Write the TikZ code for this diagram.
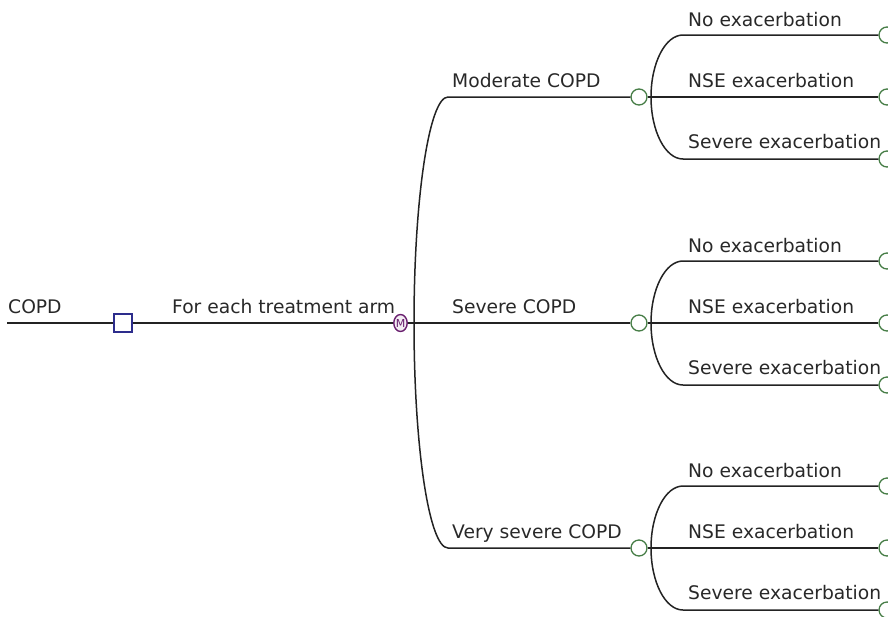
\documentclass[tikz,border=0pt]{standalone}
\usepackage{fontspec}
\setmainfont{DejaVu Sans}
\usetikzlibrary{shapes.geometric}
\definecolor{linec}{RGB}{35,35,35}
\definecolor{textc}{RGB}{40,40,40}
\definecolor{decc}{RGB}{45,45,140}
\definecolor{chancec}{RGB}{70,125,70}
\definecolor{markovc}{RGB}{105,30,110}
\begin{document}
\begin{tikzpicture}[x=1pt,y=-1pt,
  branch/.style={draw=linec, line width=1.5pt},
  lbl/.style={anchor=base west, inner sep=0pt, text=textc, font=\fontsize{18.7}{20}\selectfont},
  decision/.style={rectangle, draw=decc, line width=1.4pt, minimum size=18pt, inner sep=0pt, fill=white},
  chance/.style={circle, draw=chancec, line width=1.3pt, minimum size=16pt, inner sep=0pt, fill=white},
  markov/.style={ellipse, draw=markovc, line width=1.4pt, minimum width=13pt, minimum height=17pt, inner sep=0pt, fill=markovc!8, text=markovc, font=\fontsize{11}{11}\selectfont}
]
\useasboundingbox (0,0) rectangle (888,616);
\clip (0,0) rectangle (888,616);

% root, decision and Markov nodes
\coordinate (start) at (7,323);
\node[decision] (dec) at (123,323) {};
\node[markov] (mk) at (400.5,323) {M};
\coordinate (j0) at (414,323);

\node[lbl] (lroot) at (8,313) {COPD};
\node[lbl] (larm) at (172,313) {For each treatment arm};

\draw[branch] (start) -- (dec.west);
\draw[branch] (dec.east) -- (mk.west);
\draw[branch] (mk.east) -- (j0);

% health states
\foreach \i/\y/\name in {1/97/Moderate COPD, 2/323/Severe COPD, 3/548/Very severe COPD}{
  \node[chance] (c\i) at (639,\y) {};
  \coordinate (s\i) at (448,\y);
  \node[lbl] (ls\i) at (452,\y-10) {\name};
}
\draw[branch] (j0) .. controls +(0,-124.8) and +(-18.8,0) .. (s1) -- (c1.west);
\draw[branch] (j0) -- (c2.west);
\draw[branch] (j0) .. controls +(0,124.8) and +(-18.8,0) .. (s3) -- (c3.west);

% exacerbation outcomes for each health state
\foreach \i/\y in {1/97, 2/323, 3/548}{
  \coordinate (b\i) at (651,\y);
  \coordinate (u\i) at (683,\y-62);
  \coordinate (d\i) at (683,\y+62);
  \node[chance] (t\i a) at (887,\y-62) {};
  \node[chance] (t\i b) at (887,\y) {};
  \node[chance] (t\i c) at (887,\y+62) {};
  \node[lbl] (le\i a) at (688,\y-71) {No exacerbation};
  \node[lbl] (le\i b) at (688,\y-10) {NSE exacerbation};
  \node[lbl] (le\i c) at (688,\y+51) {Severe exacerbation};
  \draw[branch] (c\i.east) -- (b\i) -- (t\i b.west);
  \draw[branch] (b\i) .. controls +(0,-34.2) and +(-17.7,0) .. (u\i) -- (t\i a.west);
  \draw[branch] (b\i) .. controls +(0,34.2) and +(-17.7,0) .. (d\i) -- (t\i c.west);
}
\end{tikzpicture}
\end{document}
